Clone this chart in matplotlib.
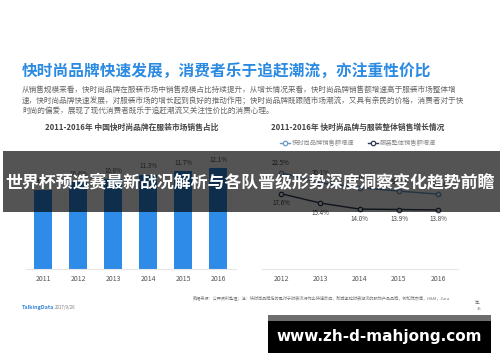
import matplotlib
matplotlib.use("Agg")
import matplotlib.pyplot as plt
from matplotlib.patches import Rectangle

plt.rcParams['font.family'] = ['Noto Sans CJK SC', 'DejaVu Sans']

# ---- data ----
bar_years = ['2011', '2012', '2013', '2014', '2015', '2016']
bar_share = [9.5, 10.4, 10.8, 11.3, 11.7, 12.1]

line_years = ['2012', '2013', '2014', '2015', '2016']
fast_growth = [22.5, 20.1, 19.0, 18.2, 17.5]
apparel_growth = [17.6, 15.4, 14.0, 13.9, 13.8]

title = '快时尚品牌快速发展，消费者乐于追赶潮流，亦注重性价比'
para = ['从销售规模来看，快时尚品牌在服装市场中销售规模占比持续提升，从增长情况来看，快时尚品牌销售额增速高于服装市场整体增',
        '速，快时尚品牌快速发展，对服装市场的增长起到良好的推动作用；快时尚品牌既跟随市场潮流，又具有亲民的价格，消费者对于快',
        '时尚的偏爱，展现了现代消费者既乐于追赶潮流又关注性价比的消费心理。']
left_title = '2011-2016年 中国快时尚品牌在服装市场销售占比'
right_title = '2011-2016年 快时尚品牌与服装整体销售增长情况'
legend_labels = ['快时尚品牌销售额增速', '服装整体销售额增速']
source = '数据来源：公开资料整理；注：快时尚品牌指的是对于时装流行作出快速反应，制成紧贴时装潮流的服饰产品品牌，例如优衣库，H&M，Zara'
banner = '世界杯预选赛最新战况解析与各队晋级形势深度洞察变化趋势前瞻'
watermark = 'www.zh-d-mahjong.com'

W, H = 500, 362
fig = plt.figure(figsize=(W / 100, H / 100), dpi=100)
fig.patch.set_facecolor('white')

def fx(x):
    return x / W

def fy(y):
    return 1 - y / H

# ---- header texts ----
fig.text(fx(22), fy(71), title, color='#2b8ae2', fontsize=11.3, fontweight='bold', va='center', ha='left')
for i, line in enumerate(para):
    fig.text(fx(22), fy(90 + 11 * i), line, color='#666666', fontsize=5.5, va='center', ha='left')
fig.text(fx(132), fy(127), left_title, color='#444444', fontsize=5.6, fontweight='bold', va='center', ha='center')
fig.text(fx(358), fy(127), right_title, color='#444444', fontsize=5.6, fontweight='bold', va='center', ha='center')

# ---- bar chart ----
axb = fig.add_axes([fx(25.5), fy(269), 210 / W, (269 - 152) / H])
xb = range(len(bar_years))
axb.bar(xb, bar_share, width=0.5, color='#2e8be8')
axb.set_xlim(-0.5, len(bar_years) - 0.5)
axb.set_ylim(0, 14)
for x, v in zip(xb, bar_share):
    axb.annotate(f'{v}%', (x, v), xytext=(0, 3), textcoords='offset points',
                 ha='center', va='bottom', fontsize=4.5, color='#555555')
axb.set_xticks(list(xb))
axb.set_xticklabels(bar_years, fontsize=5, color='#555555')
axb.tick_params(length=0, pad=4)
axb.set_yticks([])
for s in ['top', 'left', 'right']:
    axb.spines[s].set_visible(False)
axb.spines['bottom'].set_color('#e6e6e6')
axb.spines['bottom'].set_linewidth(0.8)

# ---- line chart ----
axl = fig.add_axes([fx(261.5), fy(269), 196.3 / W, (269 - 162) / H])
xl = range(len(line_years))
l1, = axl.plot(xl, fast_growth, color='#6a9cc8', lw=1.0, marker='o', ms=3.2,
               mfc='white', mec='#6a9cc8', mew=0.9, label=legend_labels[0])
l2, = axl.plot(xl, apparel_growth, color='#2d3a55', lw=1.0, marker='o', ms=3.2,
               mfc='white', mec='#2d3a55', mew=0.9, label=legend_labels[1])
for x, v in zip(xl, fast_growth):
    axl.annotate(f'{v}%', (x, v), xytext=(0, 4), textcoords='offset points',
                 ha='center', va='bottom', fontsize=4.5, color='#444444')
for x, v in zip(xl, apparel_growth):
    axl.annotate(f'{v}%', (x, v), xytext=(0, -4), textcoords='offset points',
                 ha='center', va='top', fontsize=4.5, color='#444444')
axl.set_xlim(-0.5, len(line_years) - 0.5)
axl.set_ylim(0, 25)
axl.set_xticks(list(xl))
axl.set_xticklabels(line_years, fontsize=5, color='#555555')
axl.tick_params(length=0, pad=4)
axl.set_yticks([])
for s in ['top', 'left', 'right']:
    axl.spines[s].set_visible(False)
axl.spines['bottom'].set_color('#e6e6e6')
axl.spines['bottom'].set_linewidth(0.8)

fig.legend(handles=[l1, l2], loc='center', bbox_to_anchor=(fx(358), fy(143)), ncol=2,
           frameon=False, fontsize=4.5, handlelength=1.6, columnspacing=2.2,
           handletextpad=0.3, labelcolor='#888888')

# ---- footer ----
fig.text(fx(22), fy(308), 'TalkingData', color='#3a8ad6', fontsize=3.9, fontweight='bold', va='center', ha='left')
fig.text(fx(55), fy(308), '2017/9/26', color='#777777', fontsize=3.2, va='center', ha='left')
fig.text(fx(193), fy(298), source, color='#777777', fontsize=3.0, va='center', ha='left')
fig.text(fx(475), fy(303.5), '等。', color='#777777', fontsize=3.0, va='center', ha='left')
fig.text(fx(477), fy(309), '35', color='#777777', fontsize=3.0, va='center', ha='left')

# ---- overlay banner ----
fig.add_artist(Rectangle((fx(3), fy(212)), fx(497), (212 - 151) / H, transform=fig.transFigure,
                         facecolor='black', alpha=0.67, edgecolor='none', zorder=5))
fig.text(fx(250), fy(182), banner, color='white', fontsize=12.2, fontweight='bold',
         va='center', ha='center', zorder=6)

# ---- watermark ----
fig.add_artist(Rectangle((fx(268), fy(321)), 223 / W, 6 / H, transform=fig.transFigure,
                         facecolor='#6e6e6e', edgecolor='none', zorder=5))
fig.add_artist(Rectangle((fx(268), fy(353)), 223 / W, 32 / H, transform=fig.transFigure,
                         facecolor='black', edgecolor='none', zorder=5))
fig.text(fx(379), fy(337), watermark, color='white', fontsize=11, fontweight='bold',
         family='DejaVu Sans', va='center', ha='center', zorder=6)

fig.savefig('out.png', dpi=100)
